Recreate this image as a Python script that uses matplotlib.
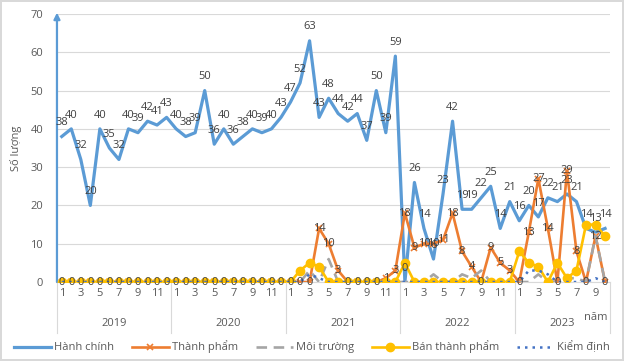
import matplotlib
matplotlib.use("Agg")
import matplotlib.pyplot as plt

plt.rcParams['font.family'] = ['Open Sans', 'DejaVu Sans']

years = ['2019', '2020', '2021', '2022', '2023']
months_per_year = [12, 12, 12, 12, 10]

hanh_chinh = [38, 40, 32, 20, 40, 35, 32, 40, 39, 42, 41, 43,
              40, 38, 39, 50, 36, 40, 36, 38, 40, 39, 40, 43,
              47, 52, 63, 43, 48, 44, 42, 44, 37, 50, 39, 59,
              0, 26, 14, 6, 23, 42, 19, 19, 22, 25, 14, 21,
              16, 20, 17, 22, 21, 23, 21, 14, 13, 14]
thanh_pham = [0, 0, 0, 0, 0, 0, 0, 0, 0, 0, 0, 0,
              0, 0, 0, 0, 0, 0, 0, 0, 0, 0, 0, 0,
              0, 0, 0, 14, 10, 3, 0, 0, 0, 0, 1, 3,
              18, 9, 10, 10, 11, 18, 8, 4, 0, 9, 5, 3,
              0, 13, 27, 14, 0, 29, 8, 0, 12, 0]
moi_truong = [0, 0, 0, 0, 0, 0, 0, 0, 0, 0, 0, 0,
              0, 0, 0, 0, 0, 0, 0, 0, 0, 0, 0, 0,
              0, 0, 3, 0, 6, 0, 0, 0, 0, 0, 0, 0,
              0, 0, 0, 2, 0, 0, 2, 1, 3, 0, 0, 0,
              0, 0, 2, 0, 0, 1, 1, 0, 12, 0]
ban_thanh_pham = [0, 0, 0, 0, 0, 0, 0, 0, 0, 0, 0, 0,
                  0, 0, 0, 0, 0, 0, 0, 0, 0, 0, 0, 0,
                  0, 3, 5, 4, 0, 0, 0, 0, 0, 0, 0, 0,
                  5, 0, 0, 0, 0, 0, 0, 0, 0, 0, 0, 0,
                  8, 5, 4, 0, 5, 1, 3, 15, 15, 12]
kiem_dinh = [0, 0, 0, 0, 0, 0, 0, 0, 0, 0, 0, 0,
             0, 0, 0, 0, 0, 0, 0, 0, 0, 0, 0, 0,
             0, 0, 2, 1, 0, 0, 0, 0, 0, 0, 0, 0,
             0, 0, 0, 0, 0, 0, 0, 0, 0, 0, 0, 0,
             0, 3, 3, 2, 0, 0, 0, 0, 1, 0]

txt = '#404040'
x = list(range(len(hanh_chinh)))

fig = plt.figure(figsize=(6.24, 3.61), dpi=100)
fig.patch.set_edgecolor('#D9D9D9')
fig.patch.set_linewidth(1.5)
ax = fig.add_axes([0.0913, 0.2188, 0.886, 0.7424])

ax.plot(x, hanh_chinh, color='#5B9BD5', lw=2.3, label='Hành chính', zorder=3)
ax.plot(x, thanh_pham, color='#ED7D31', lw=1.9, marker='x', ms=4, mew=1.2,
        label='Thành phẩm', zorder=4)
ax.plot(x, moi_truong, color='#A5A5A5', lw=1.9, ls=(0, (4, 2.5)),
        label='Môi trường', zorder=5)
ax.plot(x, ban_thanh_pham, color='#FFC000', lw=1.9, marker='o', ms=6,
        label='Bán thành phẩm', zorder=6)
ax.plot(x, kiem_dinh, color='#4472C4', lw=1.8, ls=(0, (1, 2)),
        label='Kiểm định', zorder=7)

# data labels: Hành chính above the point, Thành phẩm centred on it
for xi, v in zip(x, hanh_chinh):
    ax.annotate(str(v), (xi, v), xytext=(0, 6), textcoords='offset points',
                ha='center', va='bottom', fontsize=8, color=txt, zorder=10)
for xi, v in zip(x, thanh_pham):
    ax.text(xi, v, str(v), ha='center', va='center', fontsize=8, color=txt,
            zorder=10)

ax.set_xlim(-0.5, len(x) - 0.5)
ax.set_ylim(0, 70)
ax.set_yticks(range(0, 71, 10))
ax.tick_params(axis='y', length=0, labelsize=8, labelcolor='#595959', pad=10)
ax.grid(axis='y', color='#D9D9D9', lw=0.8)
ax.set_axisbelow(True)
for s in ['top', 'right', 'left']:
    ax.spines[s].set_visible(False)
ax.spines['bottom'].set_color('#D9D9D9')

# month ticks and year groups
ticks, labels = [], []
start = 0
for yr, n in zip(years, months_per_year):
    for m in range(1, n + 1, 2):
        ticks.append(start + m - 1)
        labels.append(str(m))
    ax.text(start + (n - 1) / 2, -0.155, yr, transform=ax.get_xaxis_transform(),
            ha='center', va='center', fontsize=8, color='#595959')
    ax.plot([start - 0.5, start - 0.5], [0, -0.19], transform=ax.get_xaxis_transform(),
            color='#D9D9D9', lw=0.8, clip_on=False)
    start += n
ax.plot([start - 0.5, start - 0.5], [0, -0.19], transform=ax.get_xaxis_transform(),
        color='#D9D9D9', lw=0.8, clip_on=False)
ax.set_xticks(ticks)
ax.set_xticklabels(labels)
ax.tick_params(axis='x', length=0, labelsize=8, labelcolor='#595959', pad=4)

# blue y axis with arrow
ax.annotate('', xy=(0, 1.005), xytext=(0, 0), xycoords='axes fraction',
            arrowprops=dict(arrowstyle='-|>', color='#5B9BD5', lw=1.6,
                            mutation_scale=9, shrinkA=0, shrinkB=0))

ax.set_ylabel('Số lượng', fontsize=8, color='#595959', labelpad=6)
fig.text(596 / 624, 1 - 318 / 361, 'năm', ha='center', va='center',
         fontsize=8, color='#595959')

fig.legend(loc='center', bbox_to_anchor=(0.5, 1 - 347 / 361), ncol=5,
           frameon=False, fontsize=8, labelcolor='#595959', handlelength=3.3,
           handletextpad=0.3, columnspacing=1.6)

fig.savefig('out.png', dpi=100)
